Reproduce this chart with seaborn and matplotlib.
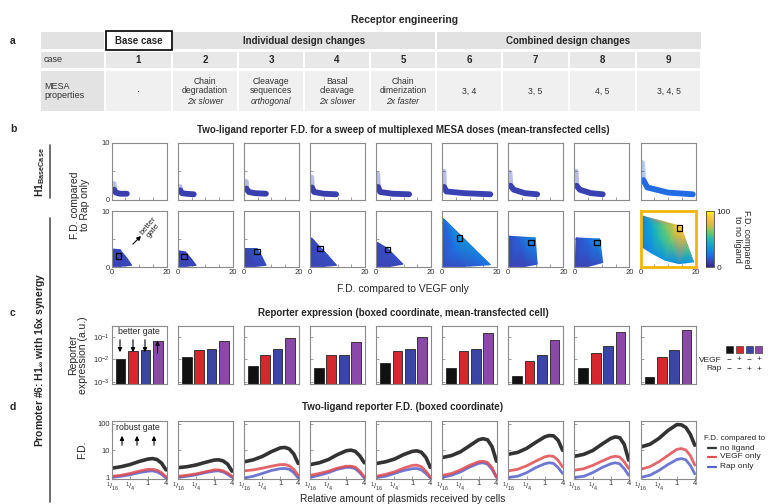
import matplotlib
matplotlib.use("Agg")
import matplotlib.pyplot as plt
import matplotlib.tri as mtri
from matplotlib.colors import LinearSegmentedColormap, Normalize
from matplotlib.cm import ScalarMappable
from matplotlib.patches import Rectangle
import seaborn as sns

# ---------------- panel a: design table ----------------
case_ids = ['1', '2', '3', '4', '5', '6', '7', '8', '9']
prop_lines = ['·', 'Chain\ndegradation', 'Cleavage\nsequences', 'Basal\ncleavage',
              'Chain\ndimerization', '3, 4', '3, 5', '4, 5', '3, 4, 5']
prop_mods = ['', '2x slower', 'orthogonal', '2x slower', '2x faster', '', '', '', '']

# ---------------- panel b: top row (H1 base case) ----------------
base_x = [[0.8, 0.9, 1.5, 3.0, 5.5],
          [0.8, 0.9, 1.5, 3.0, 5.8],
          [0.8, 0.9, 1.8, 4.0, 8.0],
          [0.5, 0.7, 1.5, 5.0, 9.5],
          [0.5, 0.7, 1.5, 6.0, 12.0],
          [0.5, 0.7, 1.5, 8.0, 17.5],
          [0.5, 0.8, 2.0, 6.0, 10.5],
          [0.5, 0.8, 2.0, 6.0, 10.3],
          [0.6, 1.0, 2.5, 10.0, 19.0]]
base_y = [[2.8, 1.8, 1.3, 1.1, 1.1],
          [2.3, 1.7, 1.2, 1.1, 1.0],
          [3.2, 2.0, 1.4, 1.2, 1.1],
          [4.0, 2.2, 1.4, 1.1, 1.0],
          [4.5, 2.3, 1.4, 1.1, 1.0],
          [5.0, 2.3, 1.5, 1.2, 1.0],
          [4.8, 2.5, 1.8, 1.2, 1.0],
          [5.0, 2.5, 1.8, 1.2, 1.0],
          [6.5, 3.5, 2.2, 1.3, 1.0]]
base_fd = [8, 8, 8, 8, 8, 9, 9, 9, 20]

# ---------------- panel b: bottom row (promoter #6) ----------------
syn_x = [[0.3, 0.4, 3.0, 5.5, 7.3, 3.0],
         [0.3, 0.3, 2.8, 5.0, 6.7, 3.0],
         [0.3, 0.3, 4.8, 6.6, 8.1, 4.0],
         [0.3, 0.5, 3.6, 6.8, 9.7, 5.0],
         [0.3, 0.5, 4.2, 7.2, 9.8, 5.0],
         [0.3, 0.5, 6.3, 12.0, 17.5, 8.0, 5.0],
         [0.3, 0.3, 4.0, 9.8, 10.5, 6.0, 8.0],
         [0.3, 0.6, 4.5, 9.2, 10.3, 5.0, 8.0],
         [0.6, 1.0, 4.0, 8.0, 12.0, 14.5, 15.8, 17.5, 19.3, 14.0, 9.0, 4.0, 0.8, 7.0, 11.0, 12.5]]
syn_y = [[0.1, 3.2, 3.1, 1.6, 0.3, 0.1],
         [0.1, 2.9, 2.7, 1.4, 0.3, 0.1],
         [0.1, 3.3, 3.3, 1.8, 0.3, 0.1],
         [0.1, 5.2, 3.5, 1.9, 0.3, 0.1],
         [0.1, 4.4, 3.3, 1.8, 0.5, 0.1],
         [0.1, 8.6, 5.6, 3.0, 0.4, 0.1, 3.0],
         [0.1, 5.5, 5.0, 5.2, 0.5, 0.1, 4.0],
         [0.1, 5.2, 4.8, 5.0, 0.8, 0.1, 4.0],
         [9.1, 7.5, 7.6, 7.5, 7.5, 7.3, 5.5, 3.0, 0.9, 0.6, 1.2, 2.5, 3.5, 5.0, 4.5, 6.0]]
syn_fd = [[10, 10, 12, 12, 10, 10],
          [10, 10, 11, 11, 10, 10],
          [10, 10, 15, 13, 11, 10],
          [10, 10, 13, 13, 11, 10],
          [10, 10, 13, 13, 11, 10],
          [12, 18, 35, 28, 22, 14, 22],
          [10, 12, 18, 32, 15, 10, 26],
          [10, 12, 18, 32, 15, 10, 26],
          [25, 28, 42, 60, 78, 90, 80, 55, 35, 30, 33, 30, 25, 50, 60, 75]]
box_x = [2.4, 2.2, 4.8, 3.6, 4.2, 6.3, 8.2, 8.2, 14.2]
box_y = [2.0, 1.9, 2.8, 3.3, 3.1, 5.2, 4.4, 4.4, 7.0]

# ---------------- panel c: reporter expression ----------------
bar_conds = ['none', 'VEGF', 'Rap', 'VEGF+Rap']
bar_colors = ['#111111', '#d4282e', '#3a45a5', '#8b48a8']
expr_none = [0.010, 0.012, 0.0052, 0.0043, 0.0068, 0.0043, 0.0018, 0.0043, 0.0017]
expr_vegf = [0.023, 0.026, 0.016, 0.015, 0.023, 0.023, 0.0083, 0.019, 0.012]
expr_rap = [0.027, 0.029, 0.028, 0.016, 0.028, 0.028, 0.016, 0.038, 0.026]
expr_both = [0.065, 0.067, 0.085, 0.060, 0.094, 0.15, 0.071, 0.17, 0.19]

# ---------------- panel d: F.D. vs plasmid amount ----------------
dose_log2 = [-4, -3, -2, -1, 0, 0.5, 1, 1.5, 2]
fd_none = [[2.2, 2.5, 3.0, 3.9, 4.8, 5.0, 4.6, 3.4, 1.9],
           [2.3, 2.5, 2.9, 3.6, 4.4, 4.5, 4.1, 3.1, 1.7],
           [3.8, 4.5, 6.0, 9.0, 12.5, 13.0, 11.5, 7.5, 3.3],
           [3.0, 3.5, 4.6, 7.0, 9.8, 10.3, 9.3, 6.3, 3.5],
           [3.3, 3.8, 4.8, 7.0, 9.3, 9.7, 8.6, 5.5, 2.35],
           [5.5, 6.5, 9.0, 15.0, 25.0, 27.5, 25.0, 14.0, 4.0],
           [7.3, 8.5, 12.0, 20.0, 32.0, 36.0, 35.0, 24.0, 10.2],
           [6.1, 7.2, 10.0, 17.0, 28.0, 32.0, 30.0, 17.0, 4.4],
           [13.6, 17.0, 28.0, 55.0, 92.0, 90.0, 72.0, 40.0, 15.7]]
fd_vegf = [[1.1, 1.2, 1.4, 1.7, 2.0, 2.0, 1.85, 1.5, 1.05],
           [1.1, 1.2, 1.35, 1.6, 1.9, 1.9, 1.75, 1.45, 1.1],
           [1.75, 1.9, 2.2, 2.6, 3.0, 3.0, 2.7, 2.0, 1.2],
           [1.2, 1.4, 1.7, 2.2, 2.6, 2.6, 2.4, 1.7, 1.05],
           [1.1, 1.3, 1.6, 2.2, 2.8, 2.85, 2.5, 1.7, 1.0],
           [1.2, 1.4, 1.9, 2.8, 3.8, 4.0, 3.6, 2.3, 1.05],
           [1.75, 2.0, 2.7, 4.0, 5.8, 6.3, 6.0, 4.3, 2.45],
           [1.85, 2.1, 2.8, 4.0, 5.6, 6.1, 5.7, 3.8, 2.15],
           [2.0, 2.5, 3.8, 6.5, 11.0, 11.8, 10.5, 6.5, 2.85]]
fd_rap = [[1.0, 1.1, 1.25, 1.5, 1.7, 1.75, 1.6, 1.3, 0.95],
          [1.0, 1.1, 1.25, 1.5, 1.7, 1.75, 1.6, 1.3, 1.0],
          [0.95, 1.1, 1.4, 1.8, 2.1, 2.15, 2.0, 1.5, 0.95],
          [1.0, 1.2, 1.5, 2.0, 2.35, 2.35, 2.1, 1.5, 0.95],
          [1.0, 1.1, 1.4, 1.8, 2.1, 2.15, 1.9, 1.4, 0.95],
          [1.0, 1.2, 1.6, 2.4, 3.3, 3.5, 3.1, 2.0, 1.0],
          [1.0, 1.1, 1.5, 2.3, 3.2, 3.5, 3.3, 2.3, 1.4],
          [1.0, 1.1, 1.5, 2.3, 3.2, 3.5, 3.2, 2.1, 1.2],
          [1.0, 1.2, 1.8, 3.0, 4.6, 5.0, 4.5, 2.8, 1.35]]

# ---------------- style ----------------
sns.set_style("ticks")
plt.rcParams['font.family'] = ['Liberation Sans', 'DejaVu Sans']
plt.rcParams['mathtext.fontset'] = 'custom'
plt.rcParams['mathtext.rm'] = 'Liberation Sans'
plt.rcParams['mathtext.bf'] = 'Liberation Sans:bold'
plt.rcParams['mathtext.it'] = 'Liberation Sans:italic'
plt.rcParams['xtick.direction'] = 'in'
plt.rcParams['ytick.direction'] = 'in'

parula = LinearSegmentedColormap.from_list('parula', [
    (0.0, (0.210, 0.170, 0.530)), (0.1, (0.230, 0.270, 0.720)),
    (0.2, (0.130, 0.420, 0.890)), (0.3, (0.070, 0.550, 0.880)),
    (0.4, (0.050, 0.660, 0.820)), (0.5, (0.150, 0.730, 0.680)),
    (0.6, (0.380, 0.780, 0.470)), (0.7, (0.680, 0.770, 0.300)),
    (0.8, (0.920, 0.730, 0.220)), (0.9, (0.990, 0.800, 0.200)),
    (1.0, (0.977, 0.984, 0.081))])
norm = Normalize(0, 100)

W, H = 768, 504
fig = plt.figure(figsize=(W / 100, H / 100), dpi=100)


def rect(x, y, w, h):
    return [x / W, 1 - (y + h) / H, w / W, h / H]


def style_box(ax, col='#8a8a8a', lw=0.8):
    for s in ax.spines.values():
        s.set_visible(True)
        s.set_color(col)
        s.set_linewidth(lw)
    ax.tick_params(which='both', length=2, width=0.5, color='#777777',
                   labelsize=5.5, labelcolor='#333333', pad=1.5)
    ax.tick_params(which='minor', length=0)


col_left = [111.7 + 66.1 * i for i in range(9)]
AW = 55

for i in range(9):
    # b, top row
    ax = fig.add_axes(rect(col_left[i], 143, AW, 57))
    c = parula(norm(base_fd[i]))
    ax.plot(base_x[i][:2], base_y[i][:2], color=c, lw=4, alpha=0.35, solid_capstyle='round')
    ax.plot(base_x[i][1:], base_y[i][1:], color=c, lw=4.2,
            solid_capstyle='round', solid_joinstyle='round')
    ax.set_xlim(0, 20)
    ax.set_ylim(0, 10)
    ax.set_xticks([0, 5, 10, 15, 20])
    ax.set_xticklabels([])
    ax.set_yticks([0, 5, 10])
    ax.set_yticklabels(['0', '', '10'] if i == 0 else [])
    style_box(ax)

    # b, bottom row
    ax = fig.add_axes(rect(col_left[i], 211, AW, 56))
    tri = mtri.Triangulation(syn_x[i], syn_y[i])
    ax.tripcolor(tri, syn_fd[i], cmap=parula, norm=norm, shading='gouraud')
    sns.scatterplot(x=[box_x[i]], y=[box_y[i]], marker='s', s=16, facecolor='none',
                    edgecolor='black', linewidth=0.9, ax=ax, zorder=5)
    ax.set_xlim(0, 20)
    ax.set_ylim(0, 10)
    ax.set_xticks([0, 5, 10, 15, 20])
    ax.set_xticklabels(['0', '', '', '', '20'])
    ax.set_yticks([0, 5, 10])
    ax.set_yticklabels(['0', '', '10'] if i == 0 else [])
    if i == 8:
        style_box(ax, col='#f2b705', lw=2.0)
    else:
        style_box(ax)

    # c, bars
    ax = fig.add_axes(rect(col_left[i], 326, AW, 58))
    vals = [expr_none[i], expr_vegf[i], expr_rap[i], expr_both[i]]
    sns.barplot(x=bar_conds, y=vals, hue=bar_conds, palette=bar_colors, legend=False,
                saturation=1, width=0.78, edgecolor='#222222', linewidth=0.6, ax=ax)
    ax.set_yscale('log')
    ax.set_ylim(8e-4, 0.3)
    ax.set_xlim(-0.72, 3.72)
    ax.set_xticks([])
    ax.set_xlabel('')
    ax.set_ylabel('')
    ax.set_yticks([1e-3, 1e-2, 1e-1])
    ax.set_yticklabels(['10$^{-3}$', '10$^{-2}$', '10$^{-1}$'] if i == 0 else [])
    style_box(ax)

    # d, lines
    ax = fig.add_axes(rect(col_left[i], 421, AW, 58))
    sns.lineplot(x=dose_log2, y=fd_rap[i], color='#5560cc', lw=2.0, alpha=0.85,
                 estimator=None, sort=False, ax=ax)
    sns.lineplot(x=dose_log2, y=fd_vegf[i], color='#e04a50', lw=2.0, alpha=0.85,
                 estimator=None, sort=False, ax=ax)
    sns.lineplot(x=dose_log2, y=fd_none[i], color='#333333', lw=2.6,
                 estimator=None, sort=False, ax=ax)
    ax.set_yscale('log')
    ax.set_ylim(0.87, 125)
    ax.set_xlim(-4.05, 2.08)
    ax.set_xticks([-4, -2, 0, 2])
    ax.set_xticklabels([r'$^1/_{16}$', r'$^1/_4$', '1', '4'])
    ax.set_yticks([1, 10, 100])
    ax.set_yticklabels(['1', '10', '100'] if i == 0 else [])
    ax.set_xlabel('')
    ax.set_ylabel('')
    style_box(ax)
    ax.tick_params(axis='x', pad=1.0)

# colorbar
cax = fig.add_axes(rect(706, 211, 8, 56))
cb = fig.colorbar(ScalarMappable(norm=norm, cmap=parula), cax=cax, ticks=[0, 100])
cb.outline.set_linewidth(0.5)
cax.tick_params(length=0, labelsize=6, pad=2)

# ---------------- overlay for text, table, legends ----------------
ov = fig.add_axes([0, 0, 1, 1])
ov.set_xlim(0, W)
ov.set_ylim(H, 0)
ov.axis('off')
ov.set_zorder(10)

ov.text(405, 20, 'Receptor engineering', ha='center', va='center', fontsize=7.5, fontweight='bold')
for lab, y in zip('abcd', [41, 129, 313, 407]):
    ov.text(13, y, lab, ha='center', va='center', fontsize=7.5, fontweight='bold')

# table
xe = [40, 105, 172, 238, 304, 370, 436, 502, 569, 636, 701]
ov.add_patch(Rectangle((41, 32), 63, 17, fc='#e2e2e2', ec='none'))
ov.add_patch(Rectangle((106, 31), 66, 19, fc='white', ec='black', lw=1.2))
ov.add_patch(Rectangle((173, 32), 262, 17, fc='#e2e2e2', ec='none'))
ov.add_patch(Rectangle((437, 32), 264, 17, fc='#e2e2e2', ec='none'))
ov.text(139, 41, 'Base case', ha='center', va='center', fontsize=7, fontweight='bold')
ov.text(304, 41, 'Individual design changes', ha='center', va='center', fontsize=7, fontweight='bold')
ov.text(568, 41, 'Combined design changes', ha='center', va='center', fontsize=7, fontweight='bold')
ov.add_patch(Rectangle((41, 52), 63, 16, fc='#e3e3e3', ec='none'))
ov.add_patch(Rectangle((41, 71), 63, 40, fc='#e3e3e3', ec='none'))
ov.text(44, 60, 'case', ha='left', va='center', fontsize=6.5, color='#333333')
ov.text(44, 91, 'MESA\nproperties', ha='left', va='center', fontsize=6.5, color='#333333',
        linespacing=1.1)
for j in range(9):
    x0, x1 = xe[j + 1], xe[j + 2]
    xc = (x0 + x1) / 2
    ov.add_patch(Rectangle((x0 + 1, 52), x1 - x0 - 2, 16, fc='#e8e8e8', ec='none'))
    ov.add_patch(Rectangle((x0 + 1, 71), x1 - x0 - 2, 40, fc='#f0f0f0', ec='none'))
    ov.text(xc, 60, case_ids[j], ha='center', va='center', fontsize=7, fontweight='bold')
    if prop_mods[j]:
        ov.text(xc, 86, prop_lines[j], ha='center', va='center', fontsize=6.2,
                color='#333333', linespacing=1.05)
        ov.text(xc, 102, prop_mods[j], ha='center', va='center', fontsize=6.2,
                color='#333333', style='italic')
    else:
        ov.text(xc, 91, prop_lines[j], ha='center', va='center', fontsize=6.2, color='#333333')

# panel titles and axis labels
ov.text(403, 130, 'Two-ligand reporter F.D. for a sweep of multiplexed MESA doses (mean-transfected cells)',
        ha='center', va='center', fontsize=7, fontweight='bold')
ov.text(403, 313, 'Reporter expression (boxed coordinate, mean-transfected cell)',
        ha='center', va='center', fontsize=7, fontweight='bold')
ov.text(403, 407, 'Two-ligand reporter F.D. (boxed coordinate)',
        ha='center', va='center', fontsize=7, fontweight='bold')
ov.text(403, 289, 'F.D. compared to VEGF only', ha='center', va='center', fontsize=7.5)
ov.text(403, 499, 'Relative amount of plasmids received by cells', ha='center', va='center',
        fontsize=7.3)
ov.text(80, 205, 'F.D. compared\nto Rap only', ha='center', va='center', rotation=90,
        fontsize=7.5, linespacing=1.0)
ov.text(78, 355, 'Reporter\nexpression (a.u.)', ha='center', va='center', rotation=90,
        fontsize=7.5, linespacing=1.0)
ov.text(82, 450, 'F.D.', ha='center', va='center', rotation=90, fontsize=7.5)
ov.text(742, 239, 'F.D. compared\nto no ligand', ha='center', va='center', rotation=270,
        fontsize=6.5, linespacing=1.0)

# row group labels
ov.text(40, 172, r'H1$_{\mathbf{BaseCase}}$', ha='center', va='center', rotation=90,
        fontsize=7.5, fontweight='bold')
ov.plot([50, 50], [145, 198], color='#555555', lw=1.2)
ov.text(40, 360, r'Promoter #6: H1$_{\mathbf{\infty}}$ with 16x synergy', ha='center', va='center',
        rotation=90, fontsize=7.5, fontweight='bold')
ov.plot([50, 50], [218, 502], color='#555555', lw=1.2)

# annotations
ov.annotate('', xy=(143, 234), xytext=(131, 246),
            arrowprops=dict(arrowstyle='-|>', color='black', lw=0.8, mutation_scale=6))
ov.text(151, 228, 'better\ngate', ha='center', va='center', rotation=50, fontsize=6,
        linespacing=1.0)
ov.text(139, 332, 'better gate', ha='center', va='center', fontsize=6.3)
for xa in [120, 133, 145]:
    ov.annotate('', xy=(xa, 355), xytext=(xa, 337),
                arrowprops=dict(arrowstyle='-|>', color='black', lw=0.8, mutation_scale=6))
ov.annotate('', xy=(157.5, 338), xytext=(157.5, 356),
            arrowprops=dict(arrowstyle='-|>', color='black', lw=0.8, mutation_scale=6))
ov.text(138, 428, 'robust gate', ha='center', va='center', fontsize=6.3)
for xa in [122, 137, 154]:
    ov.annotate('', xy=(xa, 433), xytext=(xa, 448),
                arrowprops=dict(arrowstyle='-|>', color='black', lw=0.8, mutation_scale=6))

# legend for c
for k, xs in enumerate([726, 736, 746, 755]):
    ov.add_patch(Rectangle((xs, 346), 7, 7, fc=bar_colors[k], ec='#222222', lw=0.4))
ov.text(722, 360, 'VEGF', ha='right', va='center', fontsize=6)
ov.text(722, 369, 'Rap', ha='right', va='center', fontsize=6)
for sx, sv, sr in zip([729, 739, 749, 759], ['−', '+', '−', '+'], ['−', '−', '+', '+']):
    ov.text(sx, 360, sv, ha='center', va='center', fontsize=6)
    ov.text(sx, 369, sr, ha='center', va='center', fontsize=6)

# legend for d
ov.text(704, 438, 'F.D. compared to', ha='left', va='center', fontsize=5.8)
for yy, cc, lab in zip([448, 457, 467], ['#333333', '#e04a50', '#5560cc'],
                       ['no ligand', 'VEGF only', 'Rap only']):
    ov.plot([708, 716], [yy, yy], color=cc, lw=1.6)
    ov.text(720, yy, lab, ha='left', va='center', fontsize=6)

fig.savefig('out.png', dpi=100)
